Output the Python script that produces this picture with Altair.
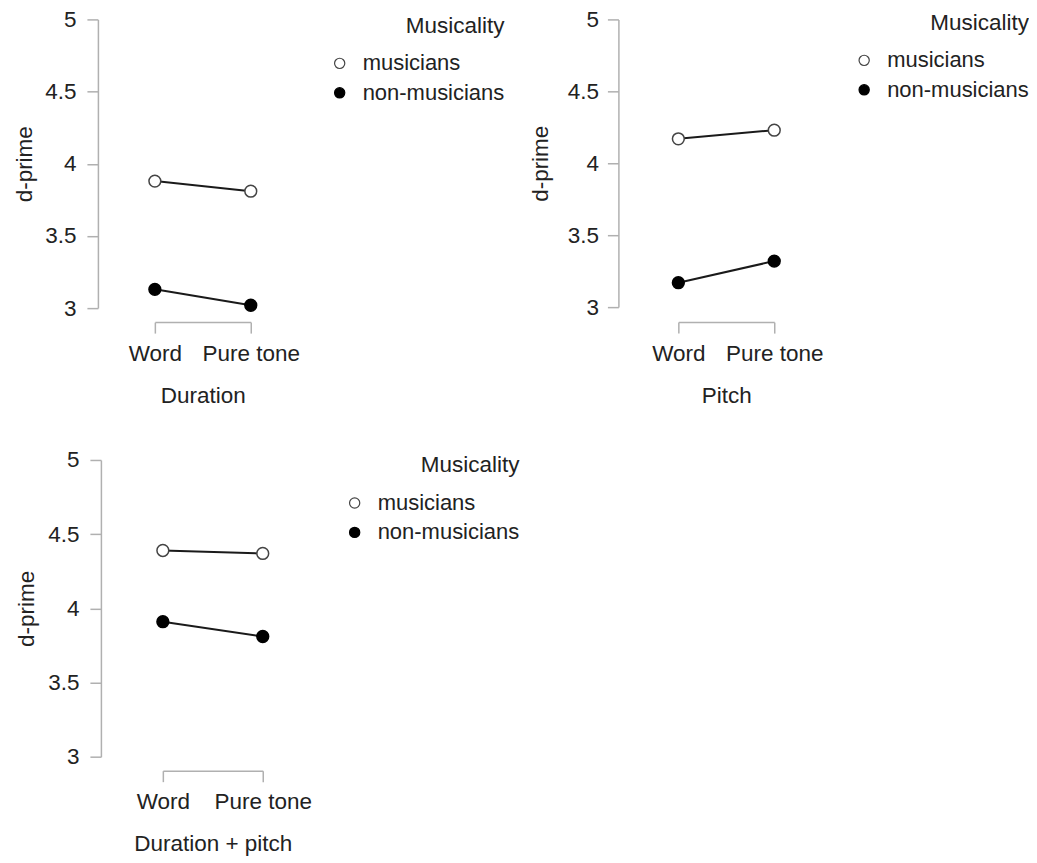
import altair as alt
import pandas as pd

panel_titles = ["Duration", "Pitch", "Duration + pitch"]
stimulus = ["Word", "Pure tone"]
groups = ["musicians", "non-musicians"]
musicians = [[3.88, 3.81], [4.17, 4.23], [4.39, 4.37]]
non_musicians = [[3.13, 3.02], [3.17, 3.32], [3.91, 3.81]]
y_ticks = [3, 3.5, 4, 4.5, 5]

# layout settings per panel
widths = [96, 96, 108]
x_ranges = [[0, 96], [0, 96], [8, 108]]
heights = [289, 289, 297]
y_ranges = [[289, 0], [288, 0], [297, 0]]
y_offsets = [57, 60, 54]
y_title_pad = [8, 15, 9]
y_label_pad = [11, 9, 11]
legend_x = [174, 175, 189]
legend_y = [-4.5, -7.5, -5.5]

FONT = "Liberation Sans"
FS = 22.5
TXT = "#222222"
AX = "#b0b0b0"


def make_legend(i):
    return alt.Legend(
        title="Musicality", orient="none", legendX=legend_x[i], legendY=legend_y[i],
        titleAnchor="end", titleFontSize=FS, labelFontSize=22, titleFont=FONT, labelFont=FONT,
        titleFontWeight="normal", titleColor=TXT, labelColor=TXT, symbolSize=105,
        symbolStrokeWidth=1.2, titlePadding=15, rowPadding=7.5, labelOffset=12, padding=0,
    )


def make_panel(i):
    rows = []
    for g, vals in zip(groups, [musicians[i], non_musicians[i]]):
        for s, v in zip(stimulus, vals):
            rows.append({"stimulus": s, "group": g, "dprime": v})
    df = pd.DataFrame(rows)
    x = alt.X("stimulus:N", sort=stimulus,
              scale=alt.Scale(type="point", padding=0, domain=stimulus, range=x_ranges[i]),
              axis=alt.Axis(title=panel_titles[i], labelAngle=0, offset=14, tickSize=11,
                            labelPadding=9, titlePadding=19.5))
    y = alt.Y("dprime:Q", scale=alt.Scale(domain=[3, 5], nice=False, zero=False, range=y_ranges[i]),
              axis=alt.Axis(title="d-prime", values=y_ticks, format="~g", offset=y_offsets[i],
                            tickSize=11, labelPadding=y_label_pad[i], titlePadding=y_title_pad[i],
                            grid=False))
    base = alt.Chart(df)
    lines = base.mark_line(color="#1a1a1a", strokeWidth=2).encode(x=x, y=y, detail="group:N")
    lg = make_legend(i)
    points = base.mark_point(shape="circle", filled=True, size=140, strokeWidth=1.5, opacity=1).encode(
        x=x, y=y,
        fill=alt.Fill("group:N", scale=alt.Scale(domain=groups, range=["white", "black"]), legend=lg),
        stroke=alt.Stroke("group:N", scale=alt.Scale(domain=groups, range=["#444444", "black"]), legend=lg),
    )
    return alt.layer(lines, points).properties(width=widths[i], height=heights[i])


p1, p2, p3 = (make_panel(i) for i in range(3))

top = alt.hconcat(p1, p2, spacing=24).resolve_scale(
    fill="independent", stroke="independent").resolve_legend(fill="independent", stroke="independent")
chart = alt.vconcat(top, p3, spacing=42).resolve_scale(
    fill="independent", stroke="independent").resolve_legend(fill="independent", stroke="independent")

chart = chart.configure_view(stroke=None).configure_axis(
    domainColor=AX, tickColor=AX, domainWidth=1.5, tickWidth=1.5,
    labelFont=FONT, titleFont=FONT, labelFontSize=FS, titleFontSize=FS,
    titleFontWeight="normal", labelColor=TXT, titleColor=TXT,
).properties(padding={"left": 5, "top": 0, "right": 0, "bottom": 0})

chart.save("out.html", embed_options={"renderer": "svg", "actions": False})
